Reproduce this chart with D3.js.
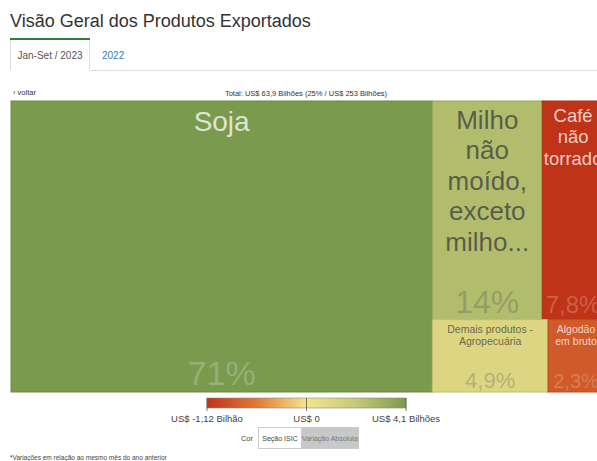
<!DOCTYPE html>
<html>
<head>
<meta charset="utf-8">
<script src="https://cdn.jsdelivr.net/npm/d3@7"></script>
<style>
  body { margin: 0; background: #fff; font-family: "Liberation Sans", Arial, sans-serif; overflow: hidden; }
</style>
</head>
<body>
<div id="chart"></div>
<script>
var width = 597;
var height = 461;

// product names, export value (US$ bi), absolute variation (US$ bi), share label
var products = ["Soja", "Milho não moído, exceto milho...", "Café não torrado", "Demais produtos - Agropecuária", "Algodão em bruto"];
var values = [45.4, 8.9, 5.0, 3.1, 1.5];
var variations = [4.1, 2.6, -1.12, 1.1, -0.82];
var shares = ["71%", "14%", "7,8%", "4,9%", "2,3%"];
// which block of the layout each product sits in
var groups = ["soja", "top", "top", "bottom", "bottom"];

var legendLabels = ["US$ -1,12 Bilhão", "US$ 0", "US$ 4,1 Bilhões"];
var legendStops = [-1.12, 0, 4.1];

var svg = d3.select("#chart")
  .append("svg")
  .attr("width", width)
  .attr("height", height)
  .style("font-family", "'Liberation Sans', Arial, sans-serif");

// header
svg.append("text")
  .attr("x", 10).attr("y", 27)
  .attr("font-size", 18)
  .attr("fill", "#333")
  .text("Visão Geral dos Produtos Exportados");

svg.append("line").attr("x1", 90).attr("x2", width).attr("y1", 70.5).attr("y2", 70.5)
  .attr("stroke", "#ddd");
svg.append("path").attr("d", "M10.5,70 V39.5 H89.5 V70").attr("fill", "none").attr("stroke", "#ddd");
svg.append("rect").attr("x", 10).attr("y", 38).attr("width", 80).attr("height", 2).attr("fill", "#2f7d3a");
svg.append("text").attr("x", 50).attr("y", 59).attr("text-anchor", "middle")
  .attr("font-size", 10).attr("fill", "#555").text("Jan-Set / 2023");
svg.append("text").attr("x", 102).attr("y", 59)
  .attr("font-size", 10).attr("fill", "#3a7bbf").text("2022");

svg.append("text").attr("x", 13).attr("y", 95).attr("font-size", 7.5).attr("fill", "#333").text("‹ voltar");
svg.append("text").attr("x", 306).attr("y", 96).attr("text-anchor", "middle")
  .attr("font-size", 7.5).attr("fill", "#333")
  .text("Total: US$ 63,9 Bilhões (25% / US$ 253 Bilhões)");

// colour scale by absolute variation
var color = d3.scaleLinear()
  .domain([-1.12, -0.56, 0, 2.05, 4.1])
  .range(["#bf3418", "#df7a38", "#f6e48e", "#c5c978", "#7a9a4e"]);

// build hierarchy: Soja | (Milho, Café) over (Demais, Algodão)
var data = products.map(function(p, i) {
  return { name: p, value: values[i], variation: variations[i], share: shares[i], group: groups[i] };
});
var tree = {
  children: [
    data[0],
    { children: [
      { children: data.filter(function(d) { return d.group == "top"; }) },
      { children: data.filter(function(d) { return d.group == "bottom"; }) }
    ] }
  ]
};

var root = d3.hierarchy(tree).sum(function(d) { return d.value || 0; });
d3.treemap()
  .tile(d3.treemapSliceDice)
  .size([593, 291])(root);

var map = svg.append("g").attr("transform", "translate(11,101)");

var leaves = map.selectAll(".cell")
  .data(root.leaves())
  .enter().append("g")
  .attr("class", "cell")
  .attr("transform", function(d) { return "translate(" + d.x0 + "," + d.y0 + ")"; });

leaves.append("rect")
  .attr("width", function(d) { return d.x1 - d.x0; })
  .attr("height", function(d) { return d.y1 - d.y0; })
  .attr("fill", function(d) { return color(d.data.variation); })
  .attr("stroke", function(d) { return d3.color(color(d.data.variation)).darker(0.35); })
  .attr("stroke-width", 1);

// label settings per tile
var labelLines = [["Soja"], ["Milho", "não", "moído,", "exceto", "milho..."], ["Café", "não", "torrado"],
  ["Demais produtos -", "Agropecuária"], ["Algodão", "em bruto"]];
var labelSize = [28, 26, 18.5, 10.5, 10.5];
var labelLead = [30, 30.5, 21.5, 12.5, 12.5];
var shareSize = [34, 32, 24, 22, 20];

leaves.each(function(d, i) {
  var g = d3.select(this);
  var w = d.x1 - d.x0, h = d.y1 - d.y0;
  var dark = d.data.variation > 0;
  var lab = g.append("text")
    .attr("text-anchor", "middle")
    .attr("font-size", labelSize[i])
    .attr("fill", dark && i != 0 ? "rgba(60,60,60,0.75)" : "rgba(255,255,255,0.75)");
  labelLines[i].forEach(function(line, j) {
    lab.append("tspan")
      .attr("x", w / 2)
      .attr("y", labelSize[i] * 0.95 + 3 + j * labelLead[i])
      .text(line);
  });
  g.append("text")
    .attr("x", w / 2)
    .attr("y", h - (i < 3 ? 7 : 4))
    .attr("text-anchor", "middle")
    .attr("font-size", shareSize[i])
    .attr("fill", i == 0 ? "rgba(255,255,255,0.22)" : (dark ? "rgba(80,80,80,0.3)" : "rgba(255,255,255,0.22)"))
    .text(d.data.share);
});

// legend
var defs = svg.append("defs");
var grad = defs.append("linearGradient").attr("id", "lg");
var legendX = d3.scaleLinear().domain([0, 1]).range([207, 406]);
// gradient stops: left half negative, right half positive
var stopT = d3.scaleLinear().domain(legendStops).range([0, 0.5, 1]);
d3.range(0, 1.0001, 0.05).forEach(function(t) {
  grad.append("stop").attr("offset", t).attr("stop-color", color(stopT.invert(t)));
});

svg.append("rect")
  .attr("x", legendX(0)).attr("y", 398)
  .attr("width", legendX(1) - legendX(0)).attr("height", 10)
  .attr("fill", "url(#lg)")
  .attr("stroke", "#888").attr("stroke-width", 0.6);

legendStops.forEach(function(v, i) {
  var x = legendX(stopT(v));
  svg.append("line").attr("x1", x).attr("x2", x).attr("y1", 398).attr("y2", 411)
    .attr("stroke", "#555").attr("stroke-width", 0.8);
  svg.append("text").attr("x", x).attr("y", 422).attr("text-anchor", "middle")
    .attr("font-size", 9.5).attr("fill", "#444").text(legendLabels[i]);
});

// colour toggle
svg.append("text").attr("x", 253).attr("y", 441).attr("text-anchor", "end")
  .attr("font-size", 7.5).attr("fill", "#444").text("Cor");
svg.append("rect").attr("x", 258.5).attr("y", 427.5).attr("width", 43).attr("height", 21)
  .attr("fill", "#fff").attr("stroke", "#ccc");
svg.append("rect").attr("x", 301.5).attr("y", 427.5).attr("width", 57).attr("height", 21)
  .attr("fill", "#c8c8c8").attr("stroke", "#ccc");
svg.append("text").attr("x", 280).attr("y", 441).attr("text-anchor", "middle")
  .attr("font-size", 7).attr("fill", "#444").text("Seção ISIC");
svg.append("text").attr("x", 330).attr("y", 441).attr("text-anchor", "middle")
  .attr("font-size", 7).attr("fill", "#777").text("Variação Absoluta");

svg.append("text").attr("x", 10).attr("y", 460).attr("font-size", 6.5).attr("fill", "#444")
  .text("*Variações em relação ao mesmo mês do ano anterior");
</script>
</body>
</html>
